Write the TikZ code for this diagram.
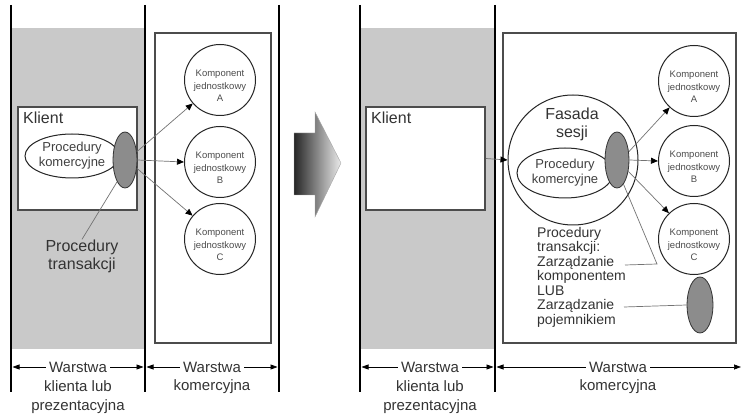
\documentclass[tikz,border=0pt]{standalone}
\usepackage{fontspec}
\setmainfont{Liberation Sans}
\usetikzlibrary{shapes.geometric,arrows.meta}
\begin{document}
\begin{tikzpicture}[x=1pt,y=-1pt,
  vline/.style={line width=2.8pt,black},
  bgfill/.style={fill=black!21},
  boxst/.style={draw=black!70,line width=1.6pt,fill=white,inner sep=0pt},
  comp/.style={circle,draw=black!85,line width=1pt,minimum size=71pt,inner sep=0pt},
  compt/.style={align=center,text=black!70,inner sep=0pt,font=\fontsize{9.5}{12.5}\selectfont,yshift=-6pt},
  gell/.style={ellipse,draw=black!80,fill=black!45,line width=0.8pt,minimum width=24pt,minimum height=56pt,inner sep=0pt},
  wellipse/.style={ellipse,draw=black!85,fill=white,line width=1pt,inner sep=0pt,align=center,text=black!75,font=\fontsize{13}{15}\selectfont},
  conn/.style={draw=black!55,line width=0.7pt,-{Triangle[length=7pt,width=6pt,color=black]}},
  leader/.style={draw=black!55,line width=0.7pt},
  dimarr/.style={line width=0.7pt,-{Triangle[length=7pt,width=5pt]}},
  lbl/.style={text=black!80,font=\fontsize{15}{19}\selectfont,inner sep=3pt,align=center},
  txt/.style={text=black!80,inner sep=0pt,align=center},
]
\useasboundingbox (0,0) rectangle (742,414);

% ===== left diagram =====
\fill[bgfill] (11,28) rectangle (145,349);
\coordinate (l1t) at (11,5);  \coordinate (l1b) at (11,392);
\coordinate (l2t) at (145,5); \coordinate (l2b) at (145,392);
\coordinate (l3t) at (279,5); \coordinate (l3b) at (279,392);
\draw[vline] (l1t) -- (l1b);
\draw[vline] (l2t) -- (l2b);
\draw[vline] (l3t) -- (l3b);

\node[boxst,minimum width=119pt,minimum height=103pt] (klient1) at (77.5,158.5) {};
\node[txt,anchor=north west,font=\fontsize{16}{18}\selectfont] (kl1txt) at (23,112) {Klient};
\node[wellipse,minimum width=92pt,minimum height=44pt] (pk1) at (72,156) {Procedury\\komercyjne};
\node[gell] (gl1) at (125,160) {};

\node[boxst,minimum width=116pt,minimum height=310pt] (kom1) at (213,188) {};
\node[comp,label={[compt]center:Komponent\\jednostkowy\\A}] (cA1) at (220,80) {};
\node[comp,label={[compt]center:Komponent\\jednostkowy\\B}] (cB1) at (220,162) {};
\node[comp,label={[compt]center:Komponent\\jednostkowy\\C}] (cC1) at (220,239) {};

\draw[conn] (gl1.35) -- (cA1);
\draw[conn] (gl1.east) -- (cB1.west);
\draw[conn] (gl1.-35) -- (cC1);

\node[txt,font=\fontsize{16}{18}\selectfont] (pt1) at (82,256) {Procedury\\transakcji};
\draw[leader] (gl1.250) -- (pt1.north);

\node[lbl] (w1a) at (78,367) {Warstwa};
\node[lbl] (w1b) at (78,397) {klienta lub\\prezentacyjna};
\coordinate (a1l) at (12.5,367); \coordinate (a1r) at (143.5,367);
\draw[dimarr] (w1a.west) -- (a1l);
\draw[dimarr] (w1a.east) -- (a1r);

\node[lbl] (w2a) at (212,367) {Warstwa};
\node[lbl] (w2b) at (212,387) {komercyjna};
\coordinate (a2l) at (146.5,367); \coordinate (a2r) at (277.5,367);
\draw[dimarr] (w2a.west) -- (a2l);
\draw[dimarr] (w2a.east) -- (a2r);

% ===== big arrow =====
\shade[left color=black!85,right color=black!8,draw=black!35,line width=0.4pt]
  (294,133) -- (315,133) -- (315,112) -- (341,163) -- (315,217) -- (315,195) -- (294,195) -- cycle;

% ===== right diagram =====
\fill[bgfill] (360,28) rectangle (495,349);
\coordinate (r1t) at (360,5); \coordinate (r1b) at (360,392);
\coordinate (r2t) at (495,5); \coordinate (r2b) at (495,392);
\draw[vline] (r1t) -- (r1b);
\draw[vline] (r2t) -- (r2b);

\node[boxst,minimum width=119pt,minimum height=103pt] (klient2) at (425.5,158.5) {};
\node[txt,anchor=north west,font=\fontsize{16}{18}\selectfont] (kl2txt) at (371,112) {Klient};

\node[boxst,minimum width=233pt,minimum height=310pt] (kom2) at (619.5,188) {};

\node[circle,draw=black!85,line width=1pt,minimum size=130pt,inner sep=0pt] (fas) at (573,160) {};
\node[txt,font=\fontsize{16}{18}\selectfont] (fastxt) at (572,124) {Fasada\\sesji};
\node[wellipse,minimum width=96pt,minimum height=50pt] (pk2) at (565,173) {Procedury\\komercyjne};
\node[gell] (gl2) at (617,160) {};

\node[comp,label={[compt]center:Komponent\\jednostkowy\\A}] (cA2) at (694,81) {};
\node[comp,label={[compt]center:Komponent\\jednostkowy\\B}] (cB2) at (694,161) {};
\node[comp,label={[compt]center:Komponent\\jednostkowy\\C}] (cC2) at (694,239) {};
\node[gell,minimum width=26pt] (gl3) at (700,305) {};

\draw[conn] (klient2.east) -- (fas.west);
\draw[conn] (gl2.35) -- (cA2);
\draw[conn] (gl2.east) -- (cB2.west);
\draw[conn] (gl2.-45) -- (cC2);

\node[txt,anchor=north west,align=left,font=\fontsize{14}{14.5}\selectfont] (pt2) at (537,227)
  {Procedury\\transakcji:\\Zarządzanie\\komponentem\\LUB\\Zarządzanie\\pojemnikiem};
\coordinate (z1end) at (625,265); \coordinate (z1kink) at (657,264);
\coordinate (z2end) at (624,307);
\draw[leader] (z1end) -- (z1kink) -- (gl2.-75);
\draw[leader] (z2end) -- (gl3.west);

\node[lbl] (w3a) at (430,367) {Warstwa};
\node[lbl] (w3b) at (430,397) {klienta lub\\prezentacyjna};
\coordinate (a3l) at (361.5,367); \coordinate (a3r) at (493.5,367);
\draw[dimarr] (w3a.west) -- (a3l);
\draw[dimarr] (w3a.east) -- (a3r);

\node[lbl] (w4a) at (618,367) {Warstwa};
\node[lbl] (w4b) at (618,387) {komercyjna};
\coordinate (a4l) at (496.5,367); \coordinate (a4r) at (741,367);
\draw[dimarr] (w4a.west) -- (a4l);
\draw[dimarr] (w4a.east) -- (a4r);
\end{tikzpicture}
\end{document}
